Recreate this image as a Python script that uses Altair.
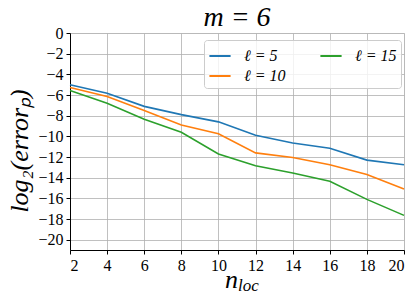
import altair as alt
import pandas as pd

n_loc = [2, 4, 6, 8, 10, 12, 14, 16, 18, 20]
l5 = [-5.0, -5.83, -7.1, -7.9, -8.6, -9.9, -10.65, -11.15, -12.3, -12.75]
l10 = [-5.28, -6.15, -7.5, -8.9, -9.75, -11.6, -12.05, -12.75, -13.7, -15.1]
l15 = [-5.57, -6.8, -8.35, -9.6, -11.7, -12.85, -13.55, -14.35, -16.1, -17.65]
series = ["ℓ = 5", "ℓ = 10", "ℓ = 15"]
colors = ["#1f77b4", "#ff7f0e", "#2ca02c"]
x_ticks = list(range(2, 21, 2))
y_ticks = list(range(-20, 1, 2))

rows = []
for name, vals in zip(series, [l5, l10, l15]):
    for x, v in zip(n_loc, vals):
        rows.append({"n": x, "v": v, "s": name})
df = pd.DataFrame(rows)

FONT = "Liberation Serif, Times New Roman, serif"
W, H = 334, 217

lines = alt.Chart(df).mark_line(strokeWidth=1.6).encode(
    x=alt.X("n:Q", scale=alt.Scale(domain=[2, 20], nice=False),
            axis=alt.Axis(values=x_ticks, title=None, grid=True, gridColor="#b0b0b0",
                          gridWidth=0.8, domainColor="black", tickColor="black",
                          labelFont=FONT, labelFontSize=16, labelColor="black",
                          labelPadding=3, tickSize=4)),
    y=alt.Y("v:Q", scale=alt.Scale(domain=[-21, 0], nice=False),
            axis=alt.Axis(values=y_ticks, title="log₂(errorₚ)", grid=True, gridColor="#b0b0b0",
                          gridWidth=0.8, domainColor="black", tickColor="black",
                          labelFont=FONT, labelFontSize=16, labelColor="black",
                          labelPadding=3, tickSize=4, titleFont=FONT,
                          titleFontSize=26, titleFontStyle="italic", titleFontWeight="normal",
                          titleColor="black", titlePadding=5, titleY=H / 2 + 9,
                          labelExpr="replace(datum.label, '-', '−')")),
    color=alt.Color("s:N", sort=series,
                    scale=alt.Scale(domain=series, range=colors),
                    legend=alt.Legend(title=None, orient="none", legendX=134, legendY=7,
                                      columns=2, symbolType="stroke", symbolSize=450,
                                      symbolStrokeWidth=2, labelFont=FONT, labelFontSize=16,
                                      labelFontStyle="italic", labelColor="black",
                                      columnPadding=30, rowPadding=-1, labelOffset=12,
                                      fillColor="rgba(255,255,255,0.8)", strokeColor="#cccccc",
                                      padding=4, cornerRadius=3, labelLimit=200)),
)

title_df = pd.DataFrame({"t": ["m = 6"]})
title = alt.Chart(title_df).mark_text(
    font=FONT, fontSize=28, fontStyle="italic", align="center", baseline="alphabetic",
    color="black").encode(x=alt.value(W / 2), y=alt.value(-7), text="t:N")

xt_n = alt.Chart(pd.DataFrame({"t": ["n"]})).mark_text(
    font=FONT, fontSize=26, fontStyle="italic", align="right", baseline="alphabetic",
    color="black").encode(x=alt.value(W / 2 + 1), y=alt.value(H + 38), text="t:N")
xt_sub = alt.Chart(pd.DataFrame({"t": ["loc"]})).mark_text(
    font=FONT, fontSize=17, fontStyle="italic", align="left", baseline="alphabetic",
    color="black").encode(x=alt.value(W / 2 + 1), y=alt.value(H + 41), text="t:N")

chart = alt.layer(lines, title, xt_n, xt_sub).properties(
    width=W, height=H,
    padding={"left": 62, "top": 25, "right": 6, "bottom": 42},
    autosize=alt.AutoSizeParams(type="none"),
).configure_view(stroke="black", strokeWidth=1.2).configure(background="white")

chart.save("out.html", embed_options={"renderer": "svg", "actions": False})
